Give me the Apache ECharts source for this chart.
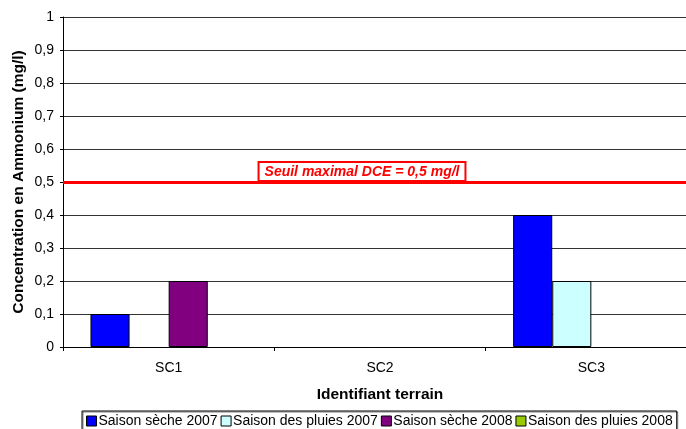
<!DOCTYPE html>
<html>
<head>
<meta charset="utf-8">
<script src="https://cdn.jsdelivr.net/npm/echarts@6/dist/echarts.min.js"></script>
<style>
  html, body { margin: 0; padding: 0; background: #fff; }
  #chart { width: 686px; height: 429px; }
</style>
</head>
<body>
<div id="chart"></div>
<script>
// data
const sites = ['SC1', 'SC2', 'SC3'];
const seche2007 = [0.1, 0, 0.4];
const pluies2007 = [0, 0, 0.2];
const seche2008 = [0.2, 0, 0];
const pluies2008 = [0, 0, 0];
const seuilDCE = 0.5;

const chart = echarts.init(document.getElementById('chart'));
const font = 'Liberation Sans, Arial, sans-serif';

function bar(name, data, color) {
  return {
    name: name,
    type: 'bar',
    // zero values: no visible outline, as in Excel
    data: data.map(v => v === 0 ? { value: 0, itemStyle: { borderWidth: 0 } } : v),
    barGap: '0%',
    barCategoryGap: '26%',
    itemStyle: { color: color, borderColor: '#000', borderWidth: 1 }
  };
}

const series = [
  bar('Saison sèche 2007', seche2007, '#0000ff'),
  bar('Saison des pluies 2007', pluies2007, '#ccffff'),
  bar('Saison sèche 2008', seche2008, '#800080'),
  bar('Saison des pluies 2008', pluies2008, '#99cc00')
];
// seuil line
series[0].markLine = {
  silent: true,
  symbol: 'none',
  lineStyle: { color: '#ff0000', width: 3, type: 'solid' },
  label: {
    position: 'insideMiddleTop',
    distance: 2,
    offset: [-18, 0],
    formatter: 'Seuil maximal DCE = 0,5 mg/l',
    color: '#ff0000',
    fontFamily: font,
    fontSize: 14,
    fontWeight: 'bold',
    fontStyle: 'italic',
    backgroundColor: '#fff',
    borderColor: '#ff0000',
    borderWidth: 2,
    padding: [2, 5, 1, 5]
  },
  data: [{ yAxis: seuilDCE }]
};

chart.setOption({
  animation: false,
  textStyle: { fontFamily: font },
  grid: { left: 63, width: 634, top: 17, bottom: 82, outerBoundsMode: 'none' },
  legend: {
    left: 82,
    top: 411,
    itemWidth: 10,
    itemHeight: 10,
    itemGap: 3,
    padding: [3, 4, 3, 4],
    borderColor: '#000',
    borderWidth: 1,
    shadowColor: 'rgba(0,0,0,0.5)',
    shadowOffsetX: 1,
    shadowOffsetY: 1,
    textStyle: { fontSize: 14, color: '#000', padding: [0, 0, 0, -3] },
    itemStyle: { borderColor: '#000', borderWidth: 1 },
    icon: 'rect',
    data: series.map(s => s.name)
  },
  xAxis: {
    type: 'category',
    data: sites,
    name: 'Identifiant terrain',
    nameLocation: 'middle',
    nameGap: 40,
    nameTextStyle: { fontSize: 15.5, fontWeight: 'bold', color: '#000' },
    axisLine: { lineStyle: { color: '#000' } },
    axisTick: { show: true, length: 4, lineStyle: { color: '#000' } },
    axisLabel: { fontSize: 14, color: '#000', margin: 14 }
  },
  yAxis: {
    type: 'value',
    min: 0,
    max: 1,
    interval: 0.1,
    name: 'Concentration en Ammonium (mg/l)',
    nameLocation: 'middle',
    nameGap: 36,
    nameMoveOverlap: false,
    nameTextStyle: { fontSize: 15.5, fontWeight: 'bold', color: '#000' },
    axisLine: { show: true, lineStyle: { color: '#000' } },
    axisTick: { show: true, length: 3, lineStyle: { color: '#000' } },
    axisLabel: {
      fontSize: 14,
      color: '#000',
      margin: 9,
      formatter: v => String(Math.round(v * 10) / 10).replace('.', ',')
    },
    splitLine: { lineStyle: { color: '#333', width: 1 } }
  },
  series: series
});
</script>
</body>
</html>
